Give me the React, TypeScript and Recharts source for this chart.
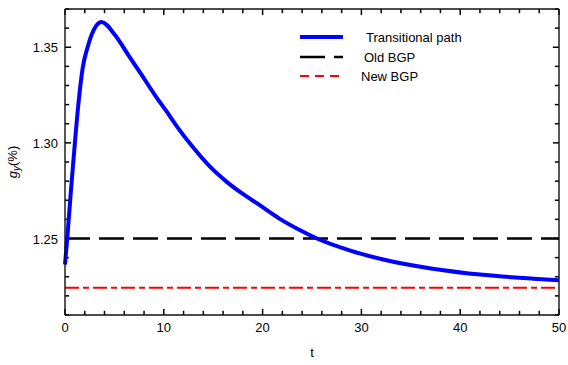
import { LineChart, Line, XAxis, YAxis, ReferenceLine, Label } from "recharts"

// transitional path
const tValues = [0, 0.25, 0.6, 1.0, 1.35, 1.8, 2.3, 2.9, 3.7, 5.06, 6.4, 7.76, 9.1, 10.3, 11.3, 13.0, 14.7, 16.4, 18.0, 19.6, 21.7, 23.8, 25.5, 28.8, 32.2, 37.2, 42.3, 47.4, 50]
const gyValues = [1.2364, 1.2515, 1.275, 1.3, 1.32, 1.3395, 1.3503, 1.359, 1.3632, 1.3564, 1.346, 1.3355, 1.325, 1.3163, 1.3088, 1.2974, 1.2874, 1.2795, 1.2733, 1.2678, 1.2604, 1.2543, 1.25, 1.2438, 1.239, 1.2342, 1.231, 1.229, 1.2282]

const oldBgp = 1.25
const newBgp = 1.2242

const xTicks = [0, 2, 4, 6, 8, 10, 12, 14, 16, 18, 20, 22, 24, 26, 28, 30, 32, 34, 36, 38, 40, 42, 44, 46, 48, 50]
const xMajorTicks = [0, 10, 20, 30, 40, 50]
const yTicks = [1.21, 1.22, 1.23, 1.24, 1.25, 1.26, 1.27, 1.28, 1.29, 1.3, 1.31, 1.32, 1.33, 1.34, 1.35, 1.36, 1.37]
const yMajorTicks = [1.25, 1.3, 1.35]

const xDomain = [0, 50]
const yDomain = [1.21, 1.37]

const data = tValues.map((t, i) => ({ t, gy: gyValues[i] }))

const font = "Arial, 'Liberation Sans', sans-serif"
const axisColor = "#111"
const tickColor = "#000"

// tick mark lengths in data units (about 6px major / 4px minor, inside the frame)
const xMarkLen = (major: boolean) => (major ? 0.62 : 0.42)
const yMarkLen = (major: boolean) => (major ? 0.0032 : 0.0022)

function BottomLabel(props: any) {
  const v = props.payload.value
  if (!xMajorTicks.includes(v)) return <g />
  return (
    <text x={props.x} y={props.y + 17} textAnchor="middle" fontSize={13} fontFamily={font} fill="#000">
      {v}
    </text>
  )
}

function LeftLabel(props: any) {
  const v = props.payload.value
  if (!yMajorTicks.includes(v)) return <g />
  return (
    <text x={props.x - 7} y={props.y + 5} textAnchor="end" fontSize={13} fontFamily={font} fill="#000">
      {v.toFixed(2)}
    </text>
  )
}

function ChartLegend() {
  const rows = [
    { label: "Transitional path", color: "#0000ff", width: 4, dash: undefined, ty: 37, tx: 366 },
    { label: "Old BGP", color: "#000", width: 2.5, dash: "25 9", ty: 57, tx: 364 },
    { label: "New BGP", color: "#ff0000", width: 2, dash: "9 6", ty: 76, tx: 361 },
  ]
  return (
    <svg width={568} height={365} style={{ position: "absolute", left: 0, top: 0, pointerEvents: "none" }}>
      {rows.map((r) => (
        <g key={r.label}>
          <line x1={300} x2={343} y1={r.ty} y2={r.ty} stroke={r.color} strokeWidth={r.width} strokeDasharray={r.dash} />
          <text x={r.tx} y={r.ty + 5} fontSize={13} fontFamily={font} fill="#000">
            {r.label}
          </text>
        </g>
      ))}
    </svg>
  )
}

export default function App() {
  return (
    <div style={{ position: "absolute", left: 0, top: 0, width: 568, height: 365, background: "#fff" }}>
      <LineChart width={568} height={365} data={data} margin={{ top: 8, right: 8, bottom: 0, left: 0 }}>
        <XAxis
          dataKey="t"
          type="number"
          domain={xDomain}
          ticks={xTicks}
          interval={0}
          height={50}
          tickSize={0}
          tickMargin={0}
          tickLine={false}
          axisLine={{ stroke: axisColor, strokeWidth: 1.4 }}
          tick={(p: any) => <BottomLabel {...p} />}
        >
          <Label
            content={({ viewBox }: any) => (
              <text x={viewBox.x + viewBox.width / 2} y={viewBox.y + 42} textAnchor="middle" fontSize={13} fontFamily={font} fill="#000">
                t
              </text>
            )}
          />
        </XAxis>
        <XAxis
          xAxisId="top"
          orientation="top"
          dataKey="t"
          type="number"
          domain={xDomain}
          height={1}
          tick={false}
          tickLine={false}
          axisLine={{ stroke: axisColor, strokeWidth: 1.4 }}
        />
        <YAxis
          type="number"
          domain={yDomain}
          ticks={yTicks}
          interval={0}
          allowDataOverflow
          width={65}
          tickSize={0}
          tickMargin={0}
          tickLine={false}
          axisLine={{ stroke: axisColor, strokeWidth: 1.4 }}
          tick={(p: any) => <LeftLabel {...p} />}
        >
          <Label
            content={({ viewBox }: any) => {
              const cx = 17
              const cy = viewBox.y + viewBox.height / 2
              return (
                <text x={cx} y={cy} transform={`rotate(-90 ${cx} ${cy})`} textAnchor="middle" fontSize={13} fontFamily={font} fill="#000">
                  <tspan fontStyle="italic">g</tspan>
                  <tspan fontStyle="italic" fontSize={10} dy={3}>y</tspan>
                  <tspan dy={-3}>(%)</tspan>
                </text>
              )
            }}
          />
        </YAxis>
        <YAxis
          yAxisId="right"
          orientation="right"
          type="number"
          domain={yDomain}
          allowDataOverflow
          width={1}
          tick={false}
          tickLine={false}
          axisLine={{ stroke: axisColor, strokeWidth: 1.4 }}
        />
        {/* inward tick marks on all four sides of the frame */}
        {xTicks.map((v) => (
          <ReferenceLine
            key={`xb${v}`}
            ifOverflow="visible"
            segment={[{ x: v, y: yDomain[0] }, { x: v, y: yDomain[0] + yMarkLen(xMajorTicks.includes(v)) }]}
            stroke={tickColor}
            strokeWidth={1.5}
          />
        ))}
        {xTicks.map((v) => (
          <ReferenceLine
            key={`xt${v}`}
            ifOverflow="visible"
            segment={[{ x: v, y: yDomain[1] }, { x: v, y: yDomain[1] - yMarkLen(xMajorTicks.includes(v)) }]}
            stroke={tickColor}
            strokeWidth={1.5}
          />
        ))}
        {yTicks.map((v) => (
          <ReferenceLine
            key={`yl${v}`}
            ifOverflow="visible"
            segment={[{ x: xDomain[0], y: v }, { x: xDomain[0] + xMarkLen(yMajorTicks.includes(v)), y: v }]}
            stroke={tickColor}
            strokeWidth={1.5}
          />
        ))}
        {yTicks.map((v) => (
          <ReferenceLine
            key={`yr${v}`}
            ifOverflow="visible"
            segment={[{ x: xDomain[1], y: v }, { x: xDomain[1] - xMarkLen(yMajorTicks.includes(v)), y: v }]}
            stroke={tickColor}
            strokeWidth={1.5}
          />
        ))}
        <ReferenceLine y={oldBgp} stroke="#000" strokeWidth={2.5} strokeDasharray="25 9" />
        <ReferenceLine y={newBgp} stroke="#ff0000" strokeWidth={2} strokeDasharray="14 4 6 4" />
        <Line
          type="monotone"
          dataKey="gy"
          stroke="#0000ff"
          strokeWidth={4}
          dot={false}
          isAnimationActive={false}
        />
      </LineChart>
      <ChartLegend />
    </div>
  )
}
